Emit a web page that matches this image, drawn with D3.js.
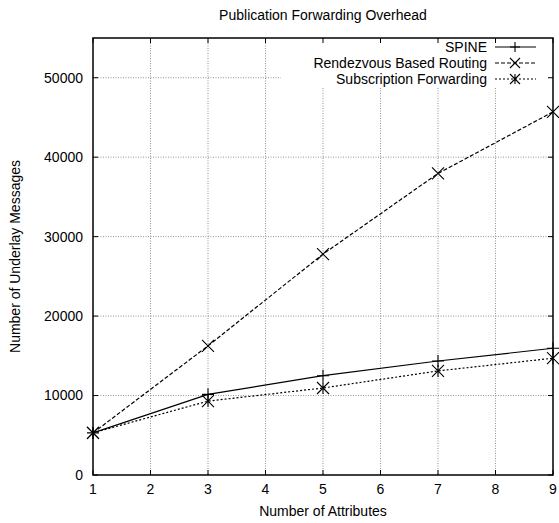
<!DOCTYPE html>
<html>
<head>
<meta charset="utf-8">
<script src="https://cdn.jsdelivr.net/npm/d3@7"></script>
<style>
  body { margin: 0; background: #fff; }
  text { font-family: "Liberation Sans", Arial, sans-serif; fill: #000; }
</style>
</head>
<body>
<div id="chart"></div>
<script>
const attributes = [1, 3, 5, 7, 9];
const spine = [5300, 10150, 12500, 14350, 15950];
const rendezvous = [5300, 16250, 27800, 37950, 45700];
const subscription = [5300, 9300, 10950, 13100, 14700];

const xTicks = [1, 2, 3, 4, 5, 6, 7, 8, 9];
const yTicks = [0, 10000, 20000, 30000, 40000, 50000];

const seriesNames = ["SPINE", "Rendezvous Based Routing", "Subscription Forwarding"];
const seriesValues = [spine, rendezvous, subscription];
const dashes = [null, "4,2", "2,2"];
const markers = ["plus", "cross", "star"];

const margin = { top: 38, right: 6, bottom: 48, left: 93 },
    width = 559 - margin.left - margin.right,
    height = 523 - margin.top - margin.bottom;

const root = d3.select("#chart")
    .append("svg")
        .attr("width", 559)
        .attr("height", 523);

const svg = root.append("g")
    .attr("transform", `translate(${margin.left},${margin.top})`);

const x = d3.scaleLinear().domain([1, 9]).range([0, width]);
const y = d3.scaleLinear().domain([0, 55000]).range([height, 0]);

// grid
svg.append("g")
    .selectAll("line")
    .data(xTicks.slice(1, -1))
    .join("line")
        .attr("x1", d => x(d)).attr("x2", d => x(d))
        .attr("y1", 0).attr("y2", height)
        .attr("stroke", "#777")
        .attr("stroke-width", 0.8)
        .attr("stroke-dasharray", "1,1.5");

svg.append("g")
    .selectAll("line")
    .data(yTicks.slice(1))
    .join("line")
        .attr("x1", 0).attr("x2", width)
        .attr("y1", d => y(d)).attr("y2", d => y(d))
        .attr("stroke", "#777")
        .attr("stroke-width", 0.8)
        .attr("stroke-dasharray", "1,1.5");

// legend background masks the grid
svg.append("rect")
    .attr("x", 188)
    .attr("y", 2)
    .attr("width", width - 188 - 1)
    .attr("height", 47)
    .attr("fill", "#fff");

// tick marks on all four sides, pointing inward
const tickLen = 5;
const ticks = svg.append("g").attr("stroke", "#000").attr("stroke-width", 1);
xTicks.forEach(t => {
    ticks.append("line").attr("x1", x(t)).attr("x2", x(t)).attr("y1", height).attr("y2", height - tickLen);
    ticks.append("line").attr("x1", x(t)).attr("x2", x(t)).attr("y1", 0).attr("y2", tickLen);
});
yTicks.forEach(t => {
    ticks.append("line").attr("x1", 0).attr("x2", tickLen).attr("y1", y(t)).attr("y2", y(t));
    ticks.append("line").attr("x1", width).attr("x2", width - tickLen).attr("y1", y(t)).attr("y2", y(t));
});

// tick labels
svg.append("g")
    .selectAll("text")
    .data(xTicks)
    .join("text")
        .attr("x", d => x(d))
        .attr("y", height + 19)
        .attr("text-anchor", "middle")
        .style("font-size", "14px")
        .text(d => d);

svg.append("g")
    .selectAll("text")
    .data(yTicks)
    .join("text")
        .attr("x", -10)
        .attr("y", d => y(d))
        .attr("dy", "0.35em")
        .attr("text-anchor", "end")
        .style("font-size", "14px")
        .text(d => d);

// markers
const drawMarker = (g, type, cx, cy, s) => {
    const p = g.append("path")
        .attr("fill", "none")
        .attr("stroke", "#000")
        .attr("stroke-width", 1.1);
    if (type === "plus") {
        p.attr("d", `M${cx - s},${cy}H${cx + s}M${cx},${cy - s}V${cy + s}`);
    } else if (type === "cross") {
        p.attr("d", `M${cx - s},${cy - s}L${cx + s},${cy + s}M${cx - s},${cy + s}L${cx + s},${cy - s}`);
    } else {
        p.attr("d", `M${cx - s},${cy - s}L${cx + s},${cy + s}M${cx - s},${cy + s}L${cx + s},${cy - s}M${cx},${cy - s}V${cy + s}`);
    }
};

const line = d3.line()
    .x((d, i) => x(attributes[i]))
    .y(d => y(d));

seriesValues.forEach((vals, k) => {
    const g = svg.append("g");
    g.append("path")
        .datum(vals)
        .attr("fill", "none")
        .attr("stroke", "#000")
        .attr("stroke-width", 1.2)
        .attr("stroke-dasharray", dashes[k])
        .attr("d", line);
    vals.forEach((v, i) => drawMarker(g, markers[k], x(attributes[i]), y(v), 6));
});

// legend
seriesNames.forEach((name, k) => {
    const ly = 9 + k * 16;
    svg.append("text")
        .attr("x", 394)
        .attr("y", ly)
        .attr("dy", "0.35em")
        .attr("text-anchor", "end")
        .style("font-size", "14px")
        .text(name);
    svg.append("line")
        .attr("x1", 402).attr("x2", 443)
        .attr("y1", ly).attr("y2", ly)
        .attr("stroke", "#000")
        .attr("stroke-width", 1.2)
        .attr("stroke-dasharray", dashes[k]);
    drawMarker(svg, markers[k], 422, ly, 5);
});

// border
svg.append("rect")
    .attr("width", width)
    .attr("height", height)
    .attr("fill", "none")
    .attr("stroke", "#000")
    .attr("stroke-width", 1.5);

// titles
root.append("text")
    .attr("x", margin.left + width / 2)
    .attr("y", 20)
    .attr("text-anchor", "middle")
    .style("font-size", "14px")
    .text("Publication Forwarding Overhead");

root.append("text")
    .attr("x", margin.left + width / 2)
    .attr("y", 516)
    .attr("text-anchor", "middle")
    .style("font-size", "14px")
    .text("Number of Attributes");

root.append("text")
    .attr("transform", "rotate(-90)")
    .attr("x", -(margin.top + height / 2))
    .attr("y", 20)
    .attr("text-anchor", "middle")
    .style("font-size", "14px")
    .text("Number of Underlay Messages");
</script>
</body>
</html>
